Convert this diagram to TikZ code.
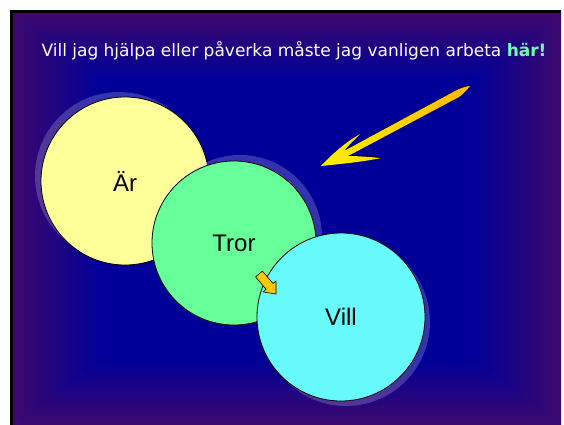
\documentclass[tikz,border=0pt]{standalone}
\usepackage{fontspec}
\setmainfont{Liberation Sans}
\newfontfamily\titlefont{DejaVu Sans}
\definecolor{bgblue}{RGB}{0,0,153}
\definecolor{bgpurple}{RGB}{62,8,108}
\definecolor{arcol}{RGB}{255,255,153}
\definecolor{trorcol}{RGB}{102,255,153}
\definecolor{villcol}{RGB}{102,250,250}
\definecolor{harcol}{RGB}{110,255,180}
\definecolor{shadowcol}{RGB}{190,190,230}
\definecolor{arrowyellow}{RGB}{255,240,0}
\definecolor{arrowgold}{RGB}{255,185,0}
\definecolor{smallgold}{RGB}{255,200,0}
\pgfdeclarehorizontalshading{bgh}{100bp}{color(0bp)=(bgpurple); color(25bp)=(bgpurple); color(33bp)=(bgblue); color(67bp)=(bgblue); color(75bp)=(bgpurple); color(100bp)=(bgpurple)}
\pgfdeclareverticalshading{bgtop}{100bp}{color(0bp)=(bgblue); color(59bp)=(bgblue); color(75bp)=(bgpurple); color(100bp)=(bgpurple)}
\pgfdeclareverticalshading{bgbot}{100bp}{color(0bp)=(bgpurple); color(25bp)=(bgpurple); color(41bp)=(bgblue); color(100bp)=(bgblue)}
\tikzset{
  circ/.style={circle, draw=black, line width=0.8pt, inner sep=0pt, font=\fontsize{24}{28}\selectfont, text=black},
  circshadow/.style={fill=shadowcol, fill opacity=0.27},
  smallarrow/.style={draw=black, line width=0.6pt, line join=round, fill=smallgold},
}
\begin{document}
\begin{tikzpicture}[x=1pt,y=-1pt]
\useasboundingbox (0,0) rectangle (564,425);
% frame and background
\coordinate (c) at (287,219);
\shade[shading=bgh] (13,13) rectangle (561,425);
\shade[shading=bgtop] (13,13) -- (561,13) -- (c) -- cycle;
\shade[shading=bgbot] (13,425) -- (561,425) -- (c) -- cycle;
\fill[black] (10,10) rectangle (561,13);
\fill[black] (10,10) rectangle (13,425);
% circles
\fill[circshadow] (119,176) circle (84);
\node[circ, fill=arcol, minimum size=168pt] (ar) at (125,181) {Är};
\fill[circshadow] (240,237) circle (82);
\node[circ, fill=trorcol, minimum size=164pt] (tror) at (234,243) {Tror};
\fill[circshadow] (346,322) circle (84);
\node[circ, fill=villcol, minimum size=168pt] (vill) at (341,317) {Vill};
% small arrow
\filldraw[smallarrow] (262.4,271.1) -- (272.9,283.4) -- (276.0,280.9) -- (276,294)
  -- (263.0,291.9) -- (266.1,289.3) -- (255.6,276.9) -- cycle;
% big arrow
\def\bigarrow{(321,166) .. controls (332,154) and (346,142) .. (360,134)
  .. controls (354,140) and (348,146) .. (344,151)
  -- (456,90.5)
  .. controls (462,87.5) and (467,86) .. (470,86)
  .. controls (467,90) and (463,94) .. (459,97)
  -- (348,156)
  .. controls (358,156) and (370,157) .. (381,158)
  .. controls (362,162) and (340,164) .. (321,166) -- cycle}
\fill[black, shift={(0.8pt,1.2pt)}] \bigarrow;
\shade[left color=arrowyellow, right color=arrowgold] \bigarrow;
% title
\node[anchor=base, text=white, font=\titlefont\fontsize{17}{20}\selectfont] (title) at (294,57)
  {Vill jag hjälpa eller påverka måste jag vanligen arbeta \textcolor{harcol}{\bfseries här!}};
\end{tikzpicture}
\end{document}
